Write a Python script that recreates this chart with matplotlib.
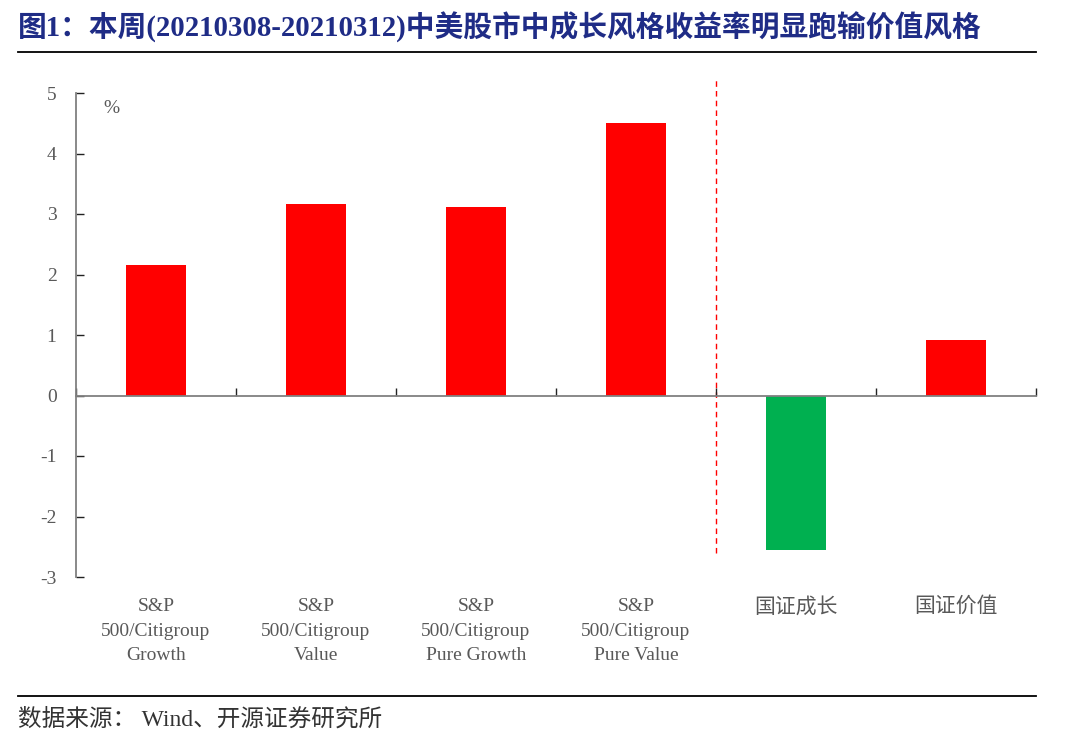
import matplotlib
matplotlib.use("Agg")
import matplotlib.pyplot as plt
from matplotlib.transforms import blended_transform_factory

categories = ["S&P\n500/Citigroup\nGrowth", "S&P\n500/Citigroup\nValue",
              "S&P\n500/Citigroup\nPure Growth", "S&P\n500/Citigroup\nPure Value",
              "国证成长", "国证价值"]
values = [2.15, 3.16, 3.11, 4.51, -2.56, 0.91]
yticks = [-3, -2, -1, 0, 1, 2, 3, 4, 5]
title = "图1：本周(20210308-20210312)中美股市中成长风格收益率明显跑输价值风格"
source = "数据来源： Wind、开源证券研究所"

fam = ["Liberation Serif", "Noto Sans CJK SC", "DejaVu Sans"]
plt.rcParams["font.family"] = fam

fig = plt.figure(figsize=(10.8, 7.37), dpi=100)
ax = fig.add_axes([76/1080, 1-577/737, 960/1080, 484/737])

colors = ["#FF0000" if v >= 0 else "#00B050" for v in values]
x = list(range(len(values)))
ax.bar(x, values, width=0.375, color=colors, zorder=2)

ax.set_xlim(-0.5, len(values) - 0.5)
ax.set_ylim(-3, 5)
ax.set_yticks(yticks)
ax.set_yticklabels([str(t) for t in yticks], color="#595959", fontsize=14)
ax.tick_params(axis="y", direction="in", length=6, width=1, color="#222222", pad=14)

for s in ["top", "right"]:
    ax.spines[s].set_visible(False)
ax.spines["left"].set_color("#808080")
ax.spines["left"].set_linewidth(1.3)
ax.spines["bottom"].set_position(("data", 0))
ax.spines["bottom"].set_color("#808080")
ax.spines["bottom"].set_linewidth(1.3)
ax.spines["bottom"].set_zorder(3)

ax.set_xticks([i - 0.5 for i in range(len(values) + 1)])
ax.set_xticklabels([])
ax.tick_params(axis="x", direction="in", length=6, width=1, color="#222222")

trans = blended_transform_factory(ax.transData, ax.transAxes)
for i, c in enumerate(categories):
    is_cjk = "\n" not in c
    ax.text(i, -0.044 if not is_cjk else -0.042, c, transform=trans, ha="center", va="top",
            fontsize=15 if is_cjk else 14, color="#595959", linespacing=1.58)

# divider between US and China indices
ax.plot([3.5, 3.5], [-2.61, 5.21], ls=(0, (4, 3)), color="#FF0000", lw=1.0,
        clip_on=False, zorder=1)

ax.text(0.028, 0.985, "%", transform=ax.transAxes, fontsize=14, color="#595959",
        ha="left", va="top")

fig.text(18/1080, 1-27/737, title, fontsize=20.7, fontweight="bold", color="#1F2C86",
         ha="left", va="center")
fig.add_artist(plt.Line2D([18/1080, 1036/1080], [1-52/737, 1-52/737], color="black", lw=1.3))
fig.add_artist(plt.Line2D([18/1080, 1036/1080], [1-696/737, 1-696/737], color="black", lw=1.3))
fig.text(18/1080, 1-719/737, source, fontsize=17, color="#333333", ha="left", va="center")

fig.savefig("out.png", dpi=100)
